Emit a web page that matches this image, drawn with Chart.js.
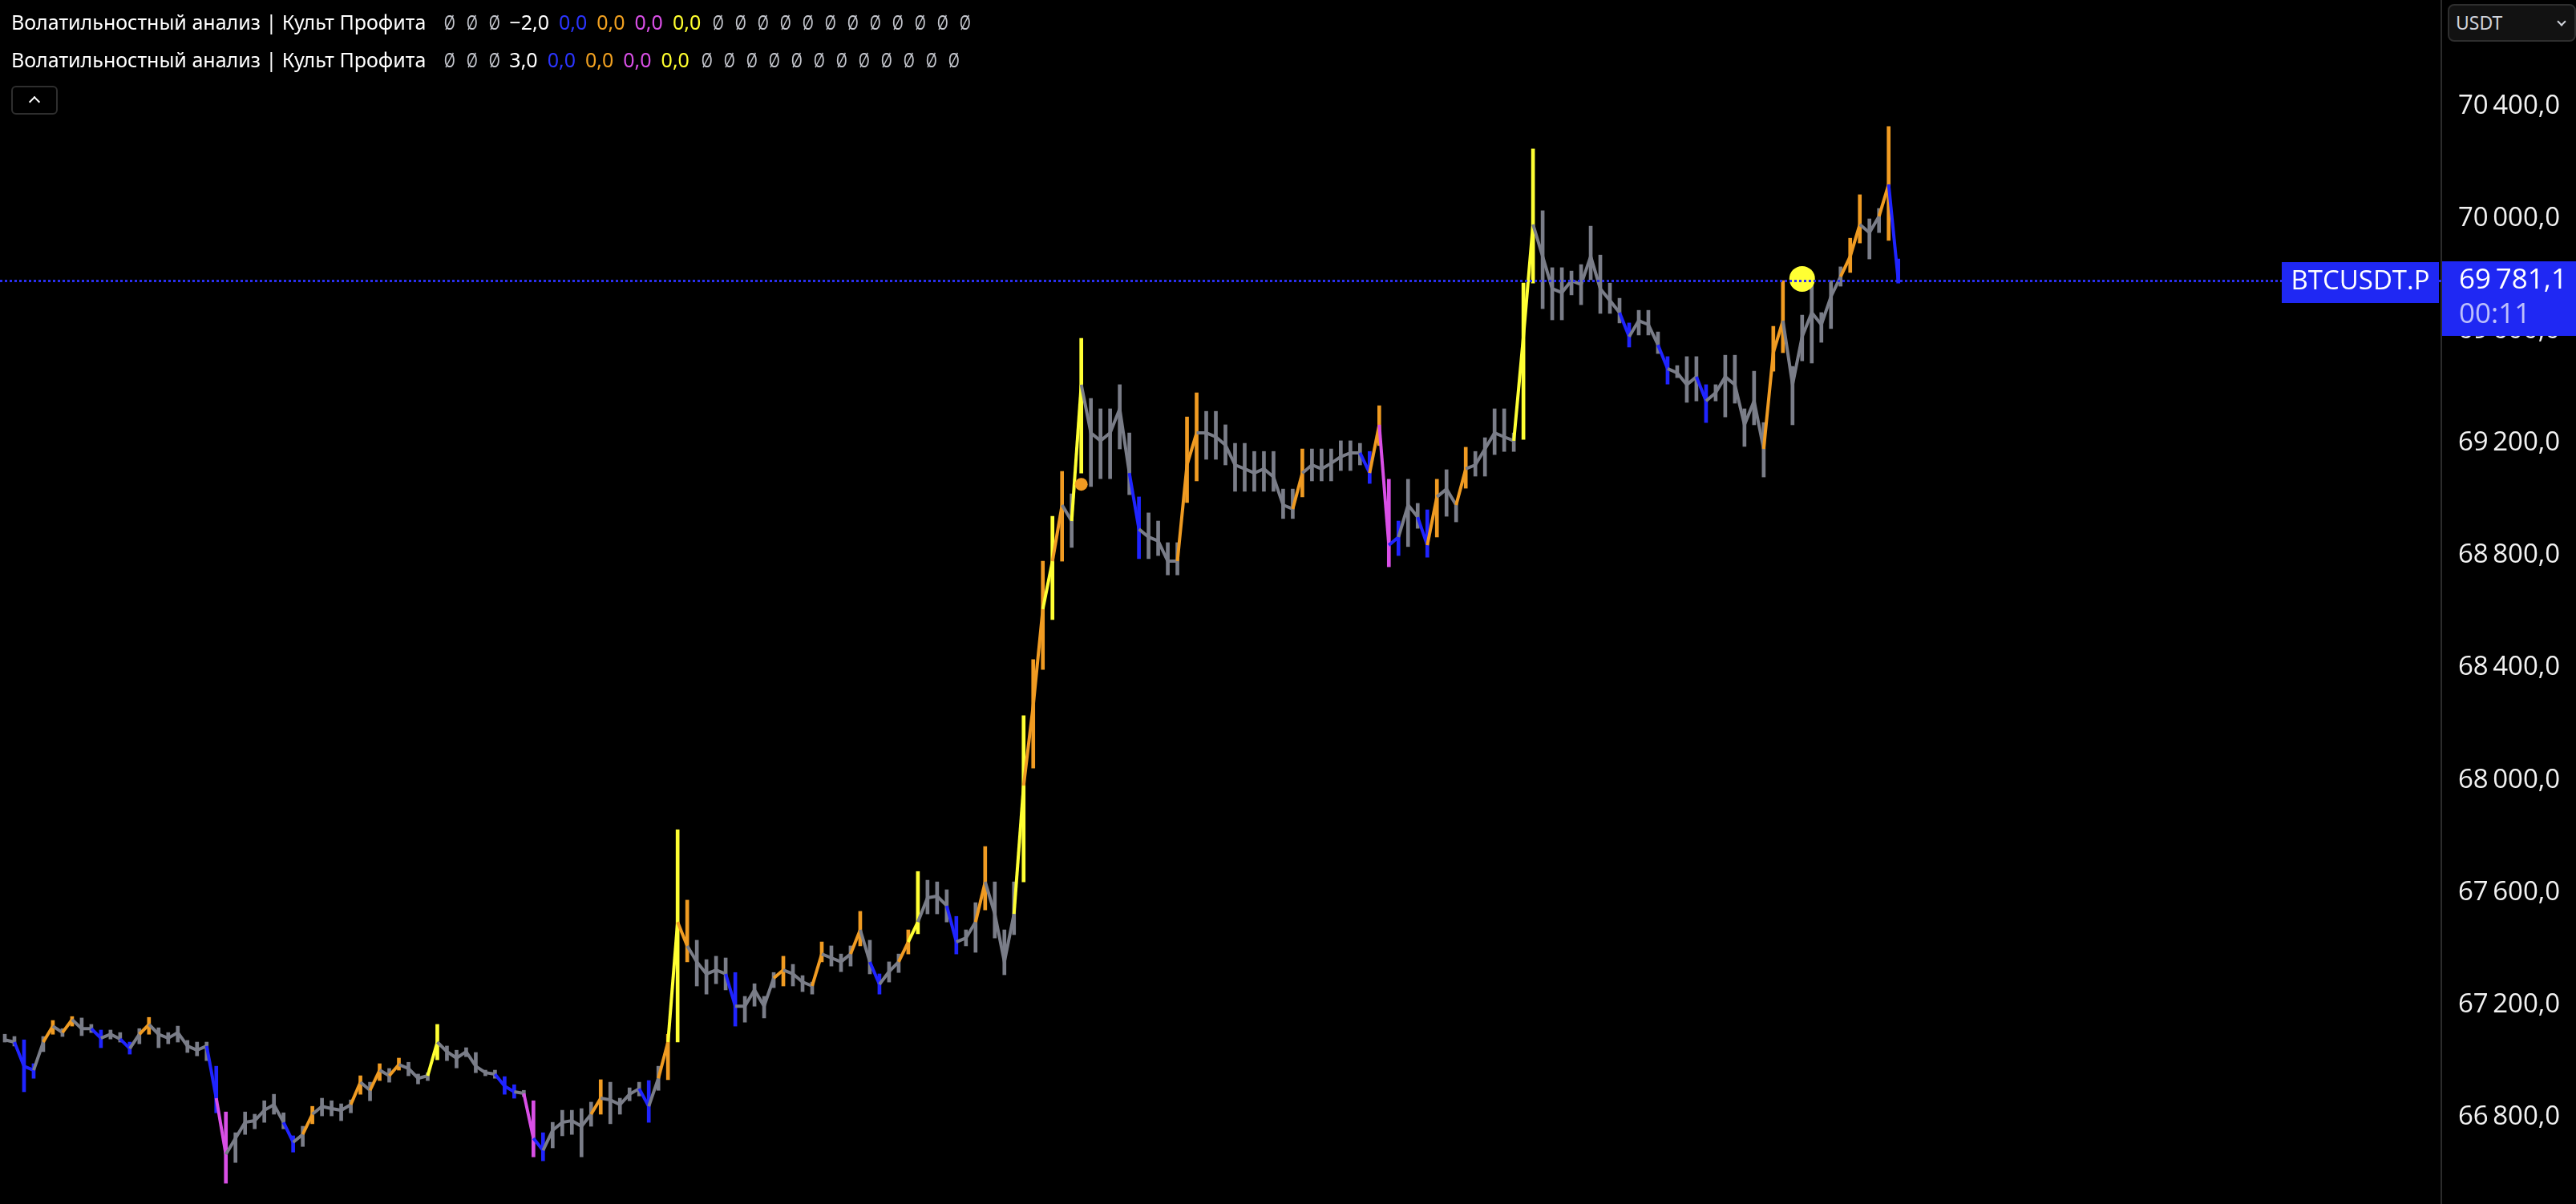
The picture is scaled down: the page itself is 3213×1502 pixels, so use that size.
<!DOCTYPE html>
<html>
<head>
<meta charset="utf-8">
<script src="https://cdn.jsdelivr.net/npm/chart.js@4.4.1/dist/chart.umd.min.js"></script>
<style>
  html, body { margin: 0; padding: 0; background: #000; }
  #wrap { position: relative; width: 3213px; height: 1502px; overflow: hidden; background: #000; }
  canvas { display: block; }
  .row { position: absolute; left: 14px; height: 32px; display: flex; align-items: center; gap: 12px;
         font: 25px 'Noto Sans', sans-serif; color: #fff; white-space: nowrap; }
  .row .title { margin-right: 8px; }
  .row .na { color: #c3c5cc; display: inline-block; width: 16px; text-align: center; }
  .row .na span { display: inline-block; transform: scaleX(0.72); }
  .btn { position: absolute; left: 14px; top: 107px; width: 54px; height: 32px; border: 2px solid #2e2e2e;
         border-radius: 6px; background: #000; }
  .btn::after { content: ''; position: absolute; left: 22px; top: 13px; width: 8px; height: 8px;
         border-left: 2px solid #fff; border-top: 2px solid #fff; transform: rotate(45deg); }
  .cur { position: absolute; left: 3053px; top: 5px; width: 160px; height: 47px; border: 2px solid #2e2e2e;
         border-radius: 8px; background: #121212; font: 23px 'Noto Sans', sans-serif; color: #d1d4dc;
         line-height: 43px; padding-left: 8px; box-sizing: border-box; }
  .cur::after { content: ''; position: absolute; right: 12px; top: 16px; width: 6px; height: 6px;
         border-right: 2px solid #d1d4dc; border-bottom: 2px solid #d1d4dc; transform: rotate(45deg); }
</style>
</head>
<body>
<div id="wrap">
  <canvas id="priceChart" width="3213" height="1502"></canvas>
  <div class="row" id="row1" style="top: 11px;"></div>
  <div class="row" id="row2" style="top: 58px;"></div>
  <div class="btn"></div>
  <div class="cur">USDT</div>
</div>
<script>
// candle columns, left to right (price, USDT)
const highs = [
  67094,67086,67074,66989,67086,67143,67114,67157,67152,67129,
  67109,67109,67100,67066,67114,67154,67117,67100,67123,67072,
  67066,67066,66980,66817,66743,66817,66809,66857,66880,66814,
  66732,66766,66837,66866,66857,66846,66860,66946,66923,66989,
  66972,67009,66994,66952,66957,67129,67052,67037,67046,67029,
  66966,66966,66943,66914,66894,66857,66743,66780,66823,66823,
  66829,66852,66932,66923,66866,66903,66923,66929,66980,67094,
  67823,67572,67429,67360,67372,67366,67314,67229,67274,67229,
  67314,67372,67343,67303,67280,67423,67409,67380,67409,67532,
  67429,67309,67352,67380,67466,67674,67643,67637,67609,67514,
  67466,67563,67763,67637,67466,67637,68229,68429,68780,68940,
  69100,69020,69574,69360,69323,69323,69409,69237,69009,68952,
  68923,68846,68846,69294,69380,69314,69314,69266,69200,69200,
  69171,69171,69171,69037,69037,69180,69180,69180,69180,69209,
  69209,69200,69171,69334,69072,68923,69072,68986,68963,69072,
  69106,68994,69186,69171,69220,69323,69323,69237,69771,70249,
  70029,69826,69826,69814,69837,69974,69871,69771,69717,69629,
  69674,69674,69597,69509,69477,69509,69509,69409,69409,69514,
  69514,69323,69457,69274,69617,69780,69474,69657,69780,69666,
  69780,69829,69931,70086,70000,70037,70329,69857
];
const lows = [
  67066,67052,66889,66937,67032,67094,67086,67123,67089,67100,
  67046,67077,67066,67023,67060,67094,67046,67060,67066,67029,
  67017,67000,66814,66563,66637,66737,66757,66780,66809,66757,
  66674,66694,66775,66803,66803,66786,66814,66880,66857,66929,
  66923,66966,66946,66917,66929,67003,67000,66974,67014,66957,
  66946,66937,66880,66866,66872,66657,66643,66689,66732,66737,
  66657,66766,66809,66775,66809,66857,66874,66780,66894,66932,
  67066,67352,67266,67237,67274,67252,67123,67137,67194,67152,
  67260,67266,67266,67246,67237,67352,67337,67317,67337,67409,
  67309,67237,67280,67314,67380,67452,67523,67523,67494,67380,
  67409,67386,67537,67437,67306,67449,67637,68043,68394,68572,
  68780,68829,69094,69046,69074,69074,69180,69017,68789,68789,
  68800,68731,68731,68989,69066,69143,69143,69123,69029,69029,
  69029,69029,69029,68932,68932,69009,69066,69066,69066,69103,
  69103,69123,69057,69192,68760,68800,68832,68897,68794,68866,
  68940,68920,69040,69083,69083,69160,69171,69171,69214,69771,
  69680,69640,69640,69729,69694,69783,69663,69663,69629,69543,
  69586,69586,69520,69411,69434,69346,69351,69274,69351,69294,
  69343,69189,69266,69080,69457,69523,69266,69494,69486,69560,
  69609,69760,69809,69914,69857,69951,69923,69771
];
const closes = [
  67074,67066,66980,66966,67066,67123,67100,67146,67114,67114,
  67080,67094,67077,67043,67094,67129,67094,67080,67100,67052,
  67037,67052,66866,66666,66723,66780,66786,66823,66843,66780,
  66709,66737,66809,66837,66829,66823,66843,66923,66894,66966,
  66946,66986,66972,66937,66946,67066,67032,67009,67032,66980,
  66957,66952,66909,66889,66883,66723,66680,66752,66780,66786,
  66766,66809,66866,66860,66843,66880,66900,66837,66937,67066,
  67494,67409,67352,67309,67323,67309,67194,67194,67252,67194,
  67294,67323,67309,67280,67266,67380,67366,67352,67380,67466,
  67352,67272,67317,67352,67423,67494,67580,67586,67552,67423,
  67437,67494,67637,67523,67352,67523,67980,68266,68609,68780,
  68980,68923,69409,69237,69209,69237,69323,69094,68894,68866,
  68852,68780,68780,69123,69237,69237,69223,69194,69123,69109,
  69094,69109,69080,68980,68966,69094,69123,69109,69129,69152,
  69166,69166,69094,69266,68837,68866,68980,68937,68837,69009,
  69037,68980,69109,69123,69180,69237,69223,69209,69580,69980,
  69866,69751,69737,69780,69766,69866,69751,69709,69666,69580,
  69637,69623,69551,69466,69451,69409,69437,69351,69380,69437,
  69409,69266,69351,69180,69523,69637,69409,69580,69666,69623,
  69723,69794,69866,69980,69951,70009,70123,69781.1
];
// volatility zone of each column: g normal, b blue, o orange, m magenta, y yellow
const zones = (
  'ggbbgogogg' + 'bggbgogggg' + 'ggbmgggggg' + 'bgoggggogo' + 'gogggygggg' +
  'ggbbgmbggg' + 'ggoggggbgo' + 'yoggggbggg' + 'gogggogggo' + 'gbggoygggb' +
  'ggogggyooy' + 'ogygggggbg' + 'gggooggggg' + 'gggggogggg' + 'ggbombggbo' +
  'ggogggggyy' + 'gggggggggb' + 'gggbgggbgg' + 'ggggoogggg' + 'ggooggob'
).split('');

// signal dots
const markerIndex = [112, 187];
const markerPrice = [69054, 69786];
const markerZone = ['o', 'y'];
const markerRadius = [8, 16];

const slotCount = 254;           // visible bar slots incl. empty space on the right
const tickValues = [66800, 67200, 67600, 68000, 68400, 68800, 69200, 69600, 70000, 70400];
const legendValues = ['\u22122,0', '3,0'];
const symbol = 'BTCUSDT.P';
const countdown = '00:11';

const palette = { g: '#7a7d88', b: '#1f24ff', o: '#f09b22', m: '#d94fe6', y: '#ffff33' };

function fmtPrice(v) {
  const parts = v.toFixed(1).split('.');
  const i = parts[0];
  return (i.length > 3 ? i.slice(0, -3) + '\u2009' + i.slice(-3) : i) + ',' + parts[1];
}

// legend rows
function buildRow(el, value) {
  const add = (txt, cls, color) => {
    const s = document.createElement('span');
    if (cls === 'na') {
      const inner = document.createElement('span');
      inner.textContent = txt;
      s.appendChild(inner);
    } else {
      s.textContent = txt;
    }
    if (cls) s.className = cls;
    if (color) s.style.color = color;
    el.appendChild(s);
  };
  add('Волатильностный анализ | Культ Профита', 'title');
  for (let k = 0; k < 3; k++) add('Ø', 'na');
  add(value);
  add('0,0', null, '#2b35ff');
  add('0,0', null, '#f0a020');
  add('0,0', null, '#d94fe6');
  add('0,0', null, '#ffff2e');
  for (let k = 0; k < 12; k++) add('Ø', 'na');
}
buildRow(document.getElementById('row1'), legendValues[0]);
buildRow(document.getElementById('row2'), legendValues[1]);

const labels = Array.from({ length: slotCount }, (_, i) => i);
const markerData = labels.map(() => null);
markerIndex.forEach((idx, k) => { markerData[idx] = markerPrice[k]; });

const lastPricePlugin = {
  id: 'lastPrice',
  afterDatasetsDraw(chart) {
    const { ctx, chartArea } = chart;
    const y = Math.round(chart.scales.y.getPixelForValue(closes[closes.length - 1]));
    ctx.save();
    ctx.strokeStyle = '#2a30f2';
    ctx.lineWidth = 3;
    ctx.setLineDash([3, 3]);
    ctx.beginPath();
    ctx.moveTo(chartArea.left, y + 0.5);
    ctx.lineTo(chartArea.right, y + 0.5);
    ctx.stroke();
    ctx.restore();
  },
  afterDraw(chart) {
    const { ctx, chartArea } = chart;
    const last = closes[closes.length - 1];
    const y = Math.round(chart.scales.y.getPixelForValue(last));
    ctx.save();
    ctx.fillStyle = '#1f28f3';
    // symbol tag
    ctx.fillRect(chartArea.right - 199, y - 23, 196, 51);
    // price + countdown tag
    ctx.fillRect(chartArea.right + 1, y - 24, 168, 93);
    ctx.font = '33px "Open Sans", sans-serif';
    ctx.textBaseline = 'middle';
    ctx.textAlign = 'center';
    ctx.fillStyle = '#ffffff';
    ctx.fillText(symbol, chartArea.right - 101, y + 2);
    ctx.textAlign = 'left';
    ctx.font = '35px "Open Sans", sans-serif';
    ctx.fillText(fmtPrice(last), chartArea.right + 22, y);
    ctx.fillStyle = 'rgba(255,255,255,0.7)';
    ctx.fillText(countdown, chartArea.right + 22, y + 43);
    ctx.restore();
  }
};

const ctx = document.getElementById('priceChart').getContext('2d');

const data = {
  labels: labels,
  datasets: [
    {
      type: 'line',
      label: 'signals',
      data: markerData,
      showLine: false,
      pointRadius: c => markerRadius[markerIndex.indexOf(c.dataIndex)] || 0,
      pointBackgroundColor: c => palette[markerZone[markerIndex.indexOf(c.dataIndex)]] || 'transparent',
      pointBorderWidth: 0,
      order: 0
    },
    {
      type: 'line',
      label: 'close',
      data: closes,
      borderWidth: 4,
      pointRadius: 0,
      borderColor: palette.g,
      segment: {
        borderColor: c => palette[zones[c.p1DataIndex]]
      },
      order: 1
    },
    {
      type: 'bar',
      label: 'range',
      data: highs.map((h, i) => [lows[i], h]),
      backgroundColor: zones.map(z => palette[z]),
      barThickness: 4,
      order: 2
    }
  ]
};

const config = {
  type: 'bar',
  data: data,
  options: {
    responsive: false,
    devicePixelRatio: 1,
    animation: false,
    events: [],
    layout: { padding: 0 },
    plugins: {
      legend: { display: false },
      tooltip: { enabled: false },
      title: { display: false }
    },
    scales: {
      x: {
        type: 'category',
        display: false,
        offset: true
      },
      y: {
        position: 'right',
        min: 66489,
        max: 70780,
        grid: { display: false, drawTicks: false },
        border: { display: true, color: '#2b2b2b', width: 2 },
        ticks: {
          padding: 21,
          color: '#f2f2f2',
          font: { family: 'Open Sans', size: 33 },
          callback: v => fmtPrice(v)
        },
        afterBuildTicks(scale) {
          scale.ticks = tickValues.map(v => ({ value: v }));
        },
        afterFit(scale) {
          scale.width = 168;
          scale.paddingTop = 0;
          scale.paddingBottom = 0;
        }
      }
    }
  },
  plugins: [lastPricePlugin]
};

const priceChart = new Chart(ctx, config);
</script>
</body>
</html>
